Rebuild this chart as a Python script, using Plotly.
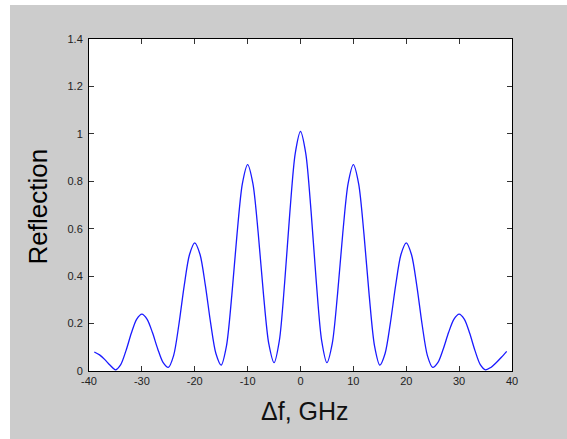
import plotly.graph_objects as go

freq_ghz = list(range(-39, 40))

reflection = [
    0.080, 0.068, 0.048, 0.024, 0.005,            # -39 .. -35
    0.027, 0.086, 0.159, 0.218, 0.240,            # -34 .. -30
    0.218, 0.162, 0.093, 0.036, 0.015,            # -29 .. -25
    0.065, 0.196, 0.359, 0.490, 0.540,            # -24 .. -20
    0.491, 0.362, 0.203, 0.074, 0.025,            # -19 .. -15
    0.106, 0.317, 0.578, 0.789, 0.870,            # -14 .. -10
    0.790, 0.582, 0.323, 0.115, 0.035,            # -9 .. -5
    0.128, 0.372, 0.673, 0.917, 1.010,            # -4 .. 0
    0.917, 0.673, 0.372, 0.128, 0.035,            # 1 .. 5
    0.115, 0.323, 0.582, 0.790, 0.870,            # 6 .. 10
    0.789, 0.578, 0.317, 0.106, 0.025,            # 11 .. 15
    0.074, 0.203, 0.362, 0.491, 0.540,            # 16 .. 20
    0.490, 0.359, 0.196, 0.065, 0.015,            # 21 .. 25
    0.036, 0.093, 0.162, 0.218, 0.240,            # 26 .. 30
    0.218, 0.159, 0.086, 0.027, 0.005,            # 31 .. 35
    0.015, 0.035, 0.058, 0.083,                   # 36 .. 39
]

x_ticks = [-40, -30, -20, -10, 0, 10, 20, 30, 40]
y_ticks = [0, 0.2, 0.4, 0.6, 0.8, 1, 1.2, 1.4]
y_tick_text = ["0", "0.2", "0.4", "0.6", "0.8", "1", "1.2", "1.4"]

W, H = 567, 439
L, R, T, B = 89, 55, 39, 68
pw, ph = W - L - R, H - T - B

fig = go.Figure()
fig.add_trace(go.Scatter(
    x=freq_ghz, y=reflection, mode="lines",
    line=dict(color="#1a1aff", width=1.3, shape="spline", smoothing=0.8),
    showlegend=False, hoverinfo="skip",
))

tickfont = dict(family="Liberation Sans, Arial, sans-serif", size=11, color="#222222")
axis_common = dict(
    showgrid=False, zeroline=False, showline=True, linecolor="black", linewidth=1,
    mirror="ticks", ticks="inside", ticklen=5, tickcolor="#333333", tickwidth=1,
    tickfont=tickfont,
)

fig.update_xaxes(range=[-40, 40], tickvals=x_ticks, ticktext=[str(v) for v in x_ticks], **axis_common)
fig.update_yaxes(range=[0, 1.4], tickvals=y_ticks, ticktext=y_tick_text,
                 ticklabelstandoff=3, **axis_common)

# white strips at the left and top edges of the image (gray frame starts at x=10, y=5)
fig.add_shape(type="rect", xref="paper", yref="paper",
              x0=-L / pw - 0.05, x1=(10 - L) / pw, y0=-B / ph - 0.1, y1=1 + T / ph + 0.1,
              fillcolor="white", line=dict(width=0), layer="above")
fig.add_shape(type="rect", xref="paper", yref="paper",
              x0=-L / pw - 0.1, x1=1 + R / pw + 0.1, y0=1 + (T - 5) / ph, y1=1 + T / ph + 0.1,
              fillcolor="white", line=dict(width=0), layer="above")

fig.add_annotation(text="Reflection", xref="paper", yref="paper",
                   x=(37 - L) / pw, y=(H - B - 206.5) / ph, textangle=-90,
                   xanchor="center", yanchor="middle", showarrow=False,
                   font=dict(family="Liberation Sans, Arial, sans-serif", size=26, color="black"))
fig.add_annotation(text="Δf, GHz", xref="paper", yref="paper",
                   x=(305.4 - L) / pw, y=(H - B - 411) / ph,
                   xanchor="center", yanchor="middle", showarrow=False,
                   font=dict(family="Liberation Sans, Arial, sans-serif", size=25, color="#111111"))

fig.update_layout(
    width=W, height=H, autosize=False,
    margin=dict(l=L, r=R, t=T, b=B, pad=0),
    paper_bgcolor="#cccccc", plot_bgcolor="white",
)

fig.write_html("out.html", config={"displayModeBar": False},
               post_script="document.body.style.margin='0';document.body.style.overflow='hidden';")
